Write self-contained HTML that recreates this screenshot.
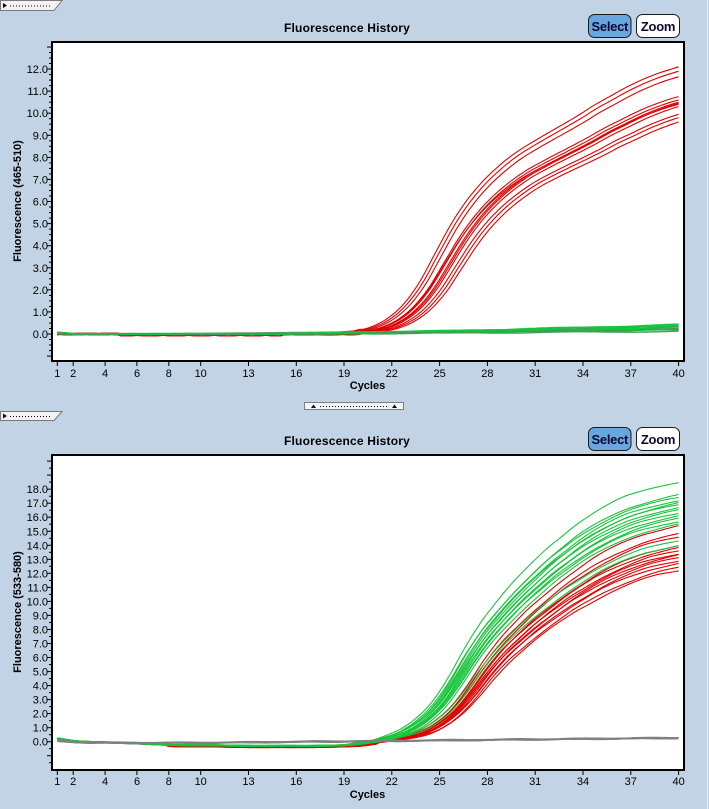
<!DOCTYPE html>
<html><head><meta charset="utf-8">
<style>
html,body{margin:0;padding:0;background:#c1d3e4;width:709px;height:809px;overflow:hidden;}
svg{display:block;}
text{font-family:"Liberation Sans",Arial,sans-serif;fill:#000;}
.yl{font-size:11px;text-anchor:end;}
.xl{font-size:11px;text-anchor:middle;}
.tt{font-size:12px;font-weight:bold;text-anchor:middle;letter-spacing:0.2px;}
.ax{font-size:11px;font-weight:bold;text-anchor:middle;}
.bt{font-size:13px;font-weight:bold;text-anchor:middle;letter-spacing:-0.3px;fill:#0a0a30;}
</style></head>
<body>
<svg id="s" width="709" height="809" viewBox="0 0 709 809" xmlns="http://www.w3.org/2000/svg">
<rect width="709" height="809" fill="#c1d3e4"/>
<line x1="707.5" y1="0" x2="707.5" y2="809" stroke="#e6edf4"/>
<defs>
<clipPath id="c1"><rect x="53" y="43" width="630" height="317"/></clipPath>
<clipPath id="c2"><rect x="53" y="456" width="630" height="313"/></clipPath>
</defs>

<!-- top tab -->
<polygon points="0.5,0.5 62,0.5 54,10.5 0.5,10.5" fill="#f2f2f2" stroke="#7a7a7a"/>
<polygon points="3,3 7,5.5 3,8" fill="#000040"/>
<line x1="10" y1="6" x2="52" y2="6" stroke="#000040" stroke-dasharray="1,2"/>

<!-- middle tab -->
<polygon points="0.5,411.5 62,411.5 54,420.5 0.5,420.5" fill="#f2f2f2" stroke="#7a7a7a"/>
<polygon points="3,413.5 7,416 3,418.5" fill="#000040"/>
<line x1="10" y1="416.5" x2="52" y2="416.5" stroke="#000040" stroke-dasharray="1,2"/>

<!-- center splitter handle -->
<rect x="304.5" y="402.5" width="99" height="7" fill="#f4f4f4" stroke="#808080"/>
<polygon points="311,408 313.5,404.5 316,408" fill="#000050"/>
<polygon points="392,408 394.5,404.5 397,408" fill="#000050"/>
<line x1="320" y1="406.5" x2="389" y2="406.5" stroke="#000050" stroke-dasharray="1,2"/>

<!-- ============ TOP CHART ============ -->
<text class="tt" x="347" y="32">Fluorescence History</text>
<rect x="588.5" y="14.5" width="42.5" height="23" rx="6" fill="#68a6de" stroke="#1a1a1a"/>
<text class="bt" x="609.8" y="31">Select</text>
<rect x="636.5" y="14.5" width="43" height="23" rx="6" fill="#ffffff" stroke="#1a1a1a"/>
<text class="bt" x="658" y="31">Zoom</text>

<rect x="52" y="42" width="632" height="319" fill="#ffffff"/>
<g id="g1" clip-path="url(#c1)" fill="none" stroke-width="1.1"></g>
<g id="t1" stroke="#000" stroke-width="1"></g>
<rect x="52" y="42" width="632" height="319" fill="none" stroke="#000" stroke-width="2"/>

<text class="yl" x="48" y="338">0.0</text>
<text class="yl" x="48" y="315.9">1.0</text>
<text class="yl" x="48" y="293.8">2.0</text>
<text class="yl" x="48" y="271.8">3.0</text>
<text class="yl" x="48" y="249.7">4.0</text>
<text class="yl" x="48" y="227.6">5.0</text>
<text class="yl" x="48" y="205.5">6.0</text>
<text class="yl" x="48" y="183.4">7.0</text>
<text class="yl" x="48" y="161.4">8.0</text>
<text class="yl" x="48" y="139.3">9.0</text>
<text class="yl" x="48" y="117.2">10.0</text>
<text class="yl" x="48" y="95.1">11.0</text>
<text class="yl" x="48" y="73">12.0</text>

<text class="xl" x="57.3" y="377">1</text>
<text class="xl" x="73.2" y="377">2</text>
<text class="xl" x="105.1" y="377">4</text>
<text class="xl" x="137" y="377">6</text>
<text class="xl" x="168.8" y="377">8</text>
<text class="xl" x="200.7" y="377">10</text>
<text class="xl" x="248.5" y="377">13</text>
<text class="xl" x="296.3" y="377">16</text>
<text class="xl" x="344.1" y="377">19</text>
<text class="xl" x="391.8" y="377">22</text>
<text class="xl" x="439.6" y="377">25</text>
<text class="xl" x="487.4" y="377">28</text>
<text class="xl" x="535.2" y="377">31</text>
<text class="xl" x="583" y="377">34</text>
<text class="xl" x="630.8" y="377">37</text>
<text class="xl" x="678.6" y="377">40</text>
<text class="ax" x="367.5" y="389">Cycles</text>
<text class="ax" transform="translate(21,201) rotate(-90)">Fluorescence (465-510)</text>

<!-- ============ BOTTOM CHART ============ -->
<text class="tt" x="347" y="445">Fluorescence History</text>
<rect x="588.5" y="427.5" width="42.5" height="23" rx="6" fill="#68a6de" stroke="#1a1a1a"/>
<text class="bt" x="609.8" y="444">Select</text>
<rect x="636.5" y="427.5" width="43" height="23" rx="6" fill="#ffffff" stroke="#1a1a1a"/>
<text class="bt" x="658" y="444">Zoom</text>

<rect x="52" y="455" width="632" height="315" fill="#ffffff"/>
<g id="g2" clip-path="url(#c2)" fill="none" stroke-width="1.1"></g>
<g id="t2" stroke="#000" stroke-width="1"></g>
<rect x="52" y="455" width="632" height="315" fill="none" stroke="#000" stroke-width="2"/>

<text class="yl" x="48" y="745.7">0.0</text>
<text class="yl" x="48" y="731.7">1.0</text>
<text class="yl" x="48" y="717.6">2.0</text>
<text class="yl" x="48" y="703.6">3.0</text>
<text class="yl" x="48" y="689.6">4.0</text>
<text class="yl" x="48" y="675.6">5.0</text>
<text class="yl" x="48" y="661.5">6.0</text>
<text class="yl" x="48" y="647.5">7.0</text>
<text class="yl" x="48" y="633.5">8.0</text>
<text class="yl" x="48" y="619.4">9.0</text>
<text class="yl" x="48" y="605.4">10.0</text>
<text class="yl" x="48" y="591.4">11.0</text>
<text class="yl" x="48" y="577.3">12.0</text>
<text class="yl" x="48" y="563.3">13.0</text>
<text class="yl" x="48" y="549.3">14.0</text>
<text class="yl" x="48" y="535.3">15.0</text>
<text class="yl" x="48" y="521.2">16.0</text>
<text class="yl" x="48" y="507.2">17.0</text>
<text class="yl" x="48" y="493.2">18.0</text>

<text class="xl" x="57.3" y="785">1</text>
<text class="xl" x="73.2" y="785">2</text>
<text class="xl" x="105.1" y="785">4</text>
<text class="xl" x="137" y="785">6</text>
<text class="xl" x="168.8" y="785">8</text>
<text class="xl" x="200.7" y="785">10</text>
<text class="xl" x="248.5" y="785">13</text>
<text class="xl" x="296.3" y="785">16</text>
<text class="xl" x="344.1" y="785">19</text>
<text class="xl" x="391.8" y="785">22</text>
<text class="xl" x="439.6" y="785">25</text>
<text class="xl" x="487.4" y="785">28</text>
<text class="xl" x="535.2" y="785">31</text>
<text class="xl" x="583" y="785">34</text>
<text class="xl" x="630.8" y="785">37</text>
<text class="xl" x="678.6" y="785">40</text>
<text class="ax" x="367.5" y="798">Cycles</text>
<text class="ax" transform="translate(21,612) rotate(-90)">Fluorescence (533-580)</text>
</svg>

<script>
(function(){
var NS="http://www.w3.org/2000/svg";
function X(c){return 57.3+(c-1)*15.93;}
function cr(t,x){
  if(x<=0) return t[0];
  if(x>=t.length-1) return t[t.length-1];
  var i=Math.floor(x), f=x-i, n=t.length-1;
  var p0=t[Math.max(i-1,0)],p1=t[i],p2=t[Math.min(i+1,n)],p3=t[Math.min(i+2,n)];
  return 0.5*((2*p1)+(-p0+p2)*f+(2*p0-5*p1+4*p2-p3)*f*f+(-p0+3*p1-3*p2+p3)*f*f*f);
}
function addPath(g,d,col,w){
  var p=document.createElementNS(NS,"path");
  p.setAttribute("d",d);p.setAttribute("stroke",col);
  if(w)p.setAttribute("stroke-width",w);
  g.appendChild(p);
}
function mk(fn,y0,k){
  var d="";
  for(var c=1;c<=40.001;c+=0.2){
    var v=fn(c);
    d+=(d?"L":"M")+X(c).toFixed(1)+","+(y0-v*k).toFixed(1);
  }
  return d;
}
// ---------- templates ----------
var T1=[];for(var i=0;i<=18;i++)T1[i]=0;
[0.05,0.12,0.28,0.6,1.15,2.0,3.15,4.3,5.25,6.0,6.6,7.1,7.5,7.87,8.23,8.6,9.0,9.35,9.7,10.0,10.25,10.45,10.65,10.85,11.0,11.15,11.3].forEach(function(v,j){T1[19+j]=v;});
var T2=[];for(var i=0;i<=19;i++)T2[i]=0;
[0.1,0.2,0.45,0.85,1.6,2.75,4.4,6.3,7.95,9.3,10.55,11.65,12.7,13.6,14.45,15.15,15.75,16.25,16.6,16.9,17.15,17.35,17.5,17.62,17.72,17.8].forEach(function(v,j){T2[20+j]=v;});
var B2=[0.22,0.22,0.05,-0.02,-0.05,-0.08,-0.12,-0.17,-0.22,-0.25,-0.25,-0.26,-0.28,-0.3,-0.3,-0.3,-0.3,-0.3,-0.28,-0.25,-0.2,-0.12,-0.05,0,0,0,0,0,0,0,0,0,0,0,0,0,0,0,0,0,0,0,0,0];

// ---------- TOP CHART ----------
var g1=document.getElementById("g1");
var y01=334,k1=22.08;
var reds1=[[12.1,-0.3],[11.9,-0.1],[11.65,0.1],[10.75,0.3],[10.6,0.4],[10.5,0.6],[10.45,0.7],[10.4,0.3],[10.3,0.8],[9.95,1.0],[9.8,1.2],[9.6,1.4]];
reds1.forEach(function(r,i){
  var s=r[0]/cr(T1,40-r[1]);
  addPath(g1,mk(function(c){
    var b=0;
    if(c<20){b=0.045*Math.sin(c*1.3+i*2.1)+((c>5&&c<15)?-0.04:0);}
    return b+s*cr(T1,c-r[1]);
  },y01,k1),"#e00000");
});
// gray
addPath(g1,mk(function(c){return 0.01+0.22*Math.max(0,c-8)/32;},y01,k1),"#7f8f80",1.6);
// greens
var gg=[0.12,0.18,0.22,0.26,0.3,0.33,0.36,0.4,0.43,0.2];
gg.forEach(function(g,i){
  addPath(g1,mk(function(c){
    var v=(c<2?0.06*(2-c):0)+g*Math.pow(Math.max(0,c-14)/26,1.3)+0.02*Math.sin(c*0.8+i*1.7);
    return v;
  },y01,k1),i%3==0?"#3d9f55":"#10c83a",1.4);
});

// ---------- BOTTOM CHART ----------
var g2=document.getElementById("g2");
var y02=741.7,k2=14.03;
var reds2=[[15.4,0.7],[14.8,0.8],[14.6,0.9],[14.0,1.0],[13.8,0.9],[13.6,1.1],[13.4,1.0],[13.3,1.2],[13.1,1.1],[12.9,1.3],[12.7,1.2],[12.4,1.4],[12.2,1.5]];
reds2.forEach(function(r,i){
  var s=r[0]/cr(T2,40-r[1]);
  addPath(g2,mk(function(c){
    var b=cr(B2,c)+((c>8&&c<21)?-0.08:0)+0.04*Math.sin(c*1.1+i*1.9);
    return b+s*cr(T2,c-r[1]);
  },y02,k2),"#e00000");
});
var greens2=[[18.5,-0.4],[17.6,-0.2],[17.4,-0.3],[17.2,-0.1],[17.0,0],[16.9,-0.2],[16.7,0.1],[16.5,0],[16.3,0.2],[16.1,0.1],[15.9,0.3],[15.7,0.2],[15.5,0.4],[14.3,0.6],[14.0,0.8]];
greens2.forEach(function(r,i){
  var s=r[0]/cr(T2,40-r[1]);
  addPath(g2,mk(function(c){
    var b=cr(B2,c)+0.04*Math.sin(c*0.9+i*2.3);
    return b+s*cr(T2,c-r[1]);
  },y02,k2),"#18c43c");
});
// gray lines
[0,0.04,-0.04].forEach(function(o,i){
  addPath(g2,mk(function(c){
    var v=(c<3?0.15*(3-c)/2:0)-0.08+0.35*Math.max(0,c-10)/30+o+0.02*Math.sin(c*1.5+i);
    return v;
  },y02,k2),"#808080",1.3);
});

// ---------- ticks ----------
function tl(g,x1,y1,x2,y2){var l=document.createElementNS(NS,"line");l.setAttribute("x1",x1);l.setAttribute("y1",y1);l.setAttribute("x2",x2);l.setAttribute("y2",y2);g.appendChild(l);}
var t1=document.getElementById("t1"),t2=document.getElementById("t2");
for(var q=-1.0;q<=13.01;q+=0.25){
  var y=y01-q*k1; if(y<44||y>359)continue;
  var maj=Math.abs(q-Math.round(q))<0.01;
  tl(t1,maj?47:49,y.toFixed(1),52,y.toFixed(1));
}
for(var q=-2.0;q<=20.01;q+=0.5){
  var y=y02-q*k2; if(y<457||y>768)continue;
  var maj=Math.abs(q-Math.round(q))<0.01;
  tl(t2,maj?47:49,y.toFixed(1),52,y.toFixed(1));
}
[1,2,4,6,8,10,13,16,19,22,25,28,31,34,37,40].forEach(function(c){
  var x=X(c).toFixed(1);
  tl(t1,x,361,x,366);
  tl(t2,x,770,x,775);
});
})();
</script>
</body></html>
